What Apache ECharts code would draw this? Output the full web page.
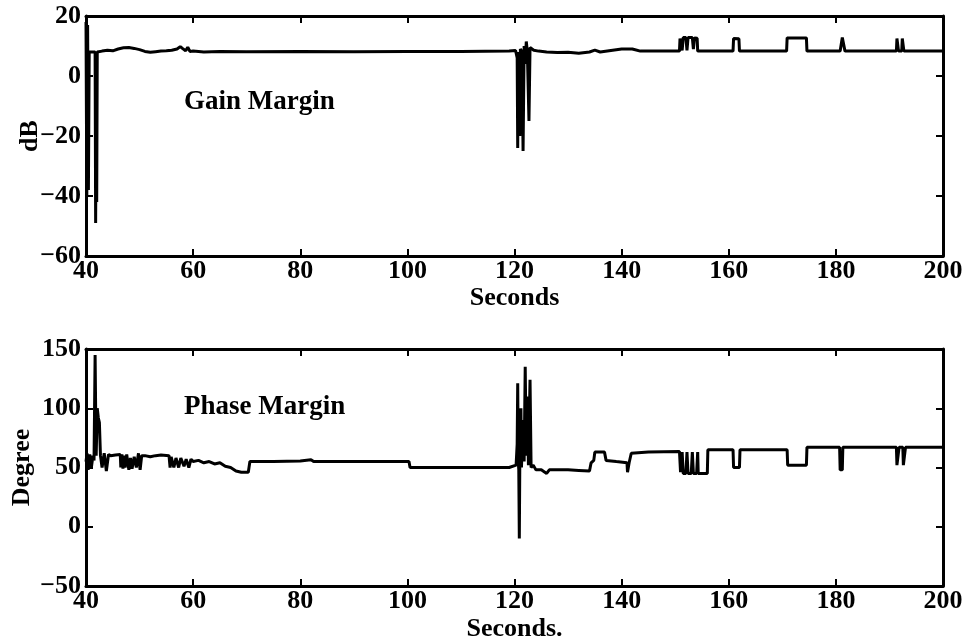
<!DOCTYPE html>
<html>
<head>
<meta charset="utf-8">
<script src="https://cdn.jsdelivr.net/npm/echarts@6/dist/echarts.min.js"></script>
<style>
  html, body { margin: 0; padding: 0; background: #fff; }
  #chart { width: 972px; height: 639px; }
</style>
</head>
<body>
<div id="chart"></div>
<script>
// gain margin (dB) vs seconds
const gainTime = [40.0, 40.15, 40.3, 40.45, 40.6, 41.7, 41.8, 41.9, 42.0, 42.1, 42.3, 43, 44, 45, 46, 47, 48, 49, 50, 51, 52, 53, 54, 55, 56, 57, 57.6, 58, 58.6, 59, 59.4, 60, 62, 65, 70, 80, 90, 100, 110, 119, 120.2, 120.5, 120.6, 120.7, 120.9, 121.0, 121.1, 121.4, 121.6, 121.8, 122.0, 122.2, 122.4, 122.7, 122.9, 123.2, 123.6, 124.5, 126, 128, 130, 132, 134, 135, 136, 138, 140, 142, 143.5, 145, 150.8, 150.9, 151.3, 151.5, 152, 152.2, 152.4, 153.2, 153.4, 153.6, 154.1, 154.2, 160.8, 160.9, 161.9, 162.0, 170.8, 170.9, 174.5, 174.6, 180.8, 181.2, 181.7, 191.3, 191.4, 191.6, 191.7, 192.3, 192.4, 192.6, 192.7, 200];
const gainDb = [18, -40, 17, -38, 8, 8, -49, -10, -42, 8, 8.5, 8.3, 8.6, 8.4, 9.0, 9.4, 9.5, 9.2, 8.8, 8.2, 7.9, 8.1, 8.3, 8.4, 8.6, 9.0, 9.8, 9.2, 8.4, 9.6, 8.2, 8.3, 8.0, 8.2, 8.1, 8.2, 8.1, 8.2, 8.2, 8.3, 8.5, 6, -24, 8, 5, -20, 9, 8, -25, 10, 4, 11.5, 8, -15, 9.5, 10, 8.6, 8.3, 8.0, 7.8, 7.9, 7.6, 8.0, 8.6, 8.0, 8.5, 9.0, 9.0, 8.3, 8.3, 8.3, 12.5, 8.5, 12.8, 12.8, 8.5, 12.8, 12.8, 9, 12.7, 12.6, 8.3, 8.3, 12.5, 12.4, 8.3, 8.3, 12.7, 12.7, 8.3, 8.3, 12.8, 8.3, 8.3, 12.5, 12.5, 8.3, 8.3, 12.5, 12.5, 8.3, 8.3];

// phase margin (degree) vs seconds
const phaseTime = [40.0, 40.2, 40.4, 40.7, 41.0, 41.3, 41.5, 41.6, 41.7, 41.8, 41.9, 42.1, 42.3, 42.5, 42.7, 43.0, 43.4, 43.8, 44.2, 44.6, 45.5, 46.4, 46.5, 46.7, 46.9, 47.1, 47.3, 47.6, 48.0, 48.3, 48.6, 49.0, 49.4, 49.8, 50.1, 50.4, 51, 52, 53, 54, 55.5, 55.7, 55.9, 56.4, 56.8, 57.3, 57.7, 58.3, 58.7, 59.2, 59.6, 60, 61, 62, 63, 64, 65, 66, 67, 68, 69, 70.3, 70.6, 75, 80, 82, 82.5, 90, 100.3, 100.5, 110, 119, 120.3, 120.5, 120.6, 120.7, 120.8, 120.9, 121.0, 121.2, 121.3, 121.6, 121.8, 122.0, 122.2, 122.4, 122.6, 122.9, 123.1, 123.5, 124, 125, 126, 126.5, 128, 130, 132, 134, 134.3, 134.8, 135, 136.8, 137.1, 139, 141, 141.1, 141.4, 141.8, 145, 150.8, 151.0, 151.3, 151.5, 152, 152.2, 152.4, 153, 153.2, 153.4, 154, 154.2, 154.3, 156, 156.1, 160.8, 160.9, 162, 162.1, 170.9, 171, 174.5, 174.6, 180.7, 180.8, 181.2, 181.3, 191.3, 191.4, 191.7, 191.8, 192.5, 192.6, 192.9, 193, 200];
const phaseDeg = [55, 62, 48, 61, 50, 60, 56, 100, 145, 100, 60, 100, 92, 88, 60, 50, 62, 47, 61, 60, 60.5, 61, 50, 61, 49, 60, 50, 61, 48, 58, 49, 59, 50, 62, 48, 60, 60, 59, 60, 60.5, 60, 50, 59, 50, 58, 50, 58, 51, 57, 50, 57, 55, 56, 54, 55, 53, 54, 51, 50, 47, 46, 46, 55, 55, 55.5, 56.5, 55, 55, 55, 50, 50, 50, 52, 70, 121, 55, 48, -10, 60, 100, 50, 90, 55, 135, 60, 110, 52, 124, 50, 52, 48, 48, 45, 48, 48, 48, 47.5, 47, 54, 56, 63, 63, 56, 55, 54, 46, 54, 62, 63, 63.5, 46, 63, 45, 45, 63, 45, 45, 63, 45, 45, 63, 45, 45, 65, 65, 50, 50, 65, 65, 52, 52, 67, 67, 48, 48, 67, 67, 52, 52, 67, 67, 52, 52, 67, 67];

// tick marks
const xTicks = { min: 40, max: 200, interval: 20 };
const gainTicks = { min: -60, max: 20, interval: 20 };
const phaseTicks = { min: -50, max: 150, interval: 50 };

const font = 'Liberation Serif';
const zip = (xs, ys) => xs.map((x, i) => [x, ys[i]]);
const minusFmt = v => String(v).replace('-', '\u2212');

const chart = echarts.init(document.getElementById('chart'));

// common axis styling: thick black frame, inward ticks
const lineStyle = { color: '#000', width: 3 };
function xAxisFor(gridIndex, name, gap, showLabel, pos) {
  return {
    type: 'value', gridIndex: gridIndex, position: pos,
    min: xTicks.min, max: xTicks.max, interval: xTicks.interval,
    name: showLabel ? name : '', nameLocation: 'middle', nameGap: gap,
    nameTextStyle: { fontFamily: font, fontWeight: 'bold', fontSize: 26, color: '#000' },
    axisLine: { show: true, onZero: false, lineStyle: lineStyle },
    axisTick: { show: true, inside: true, length: 7, lineStyle: { color: '#000', width: 2 } },
    axisLabel: { show: showLabel, margin: 2, fontFamily: font, fontWeight: 'bold', fontSize: 26, color: '#000' },
    splitLine: { show: false }
  };
}
function yAxisFor(gridIndex, ticks, name, gap, showLabel, pos) {
  return {
    type: 'value', gridIndex: gridIndex, position: pos,
    min: ticks.min, max: ticks.max, interval: ticks.interval,
    name: showLabel ? name : '', nameLocation: 'middle', nameGap: gap, nameRotate: 90,
    nameMoveOverlap: false,
    nameTextStyle: { fontFamily: font, fontWeight: 'bold', fontSize: 26, color: '#000' },
    axisLine: { show: true, onZero: false, lineStyle: lineStyle },
    axisTick: { show: true, inside: true, length: 7, lineStyle: { color: '#000', width: 2 } },
    axisLabel: { show: showLabel, margin: 5, fontFamily: font, fontWeight: 'bold', fontSize: 26, color: '#000', formatter: minusFmt },
    splitLine: { show: false }
  };
}

const option = {
  backgroundColor: '#fff',
  animation: false,
  title: [
    { text: 'Gain Margin', left: 179, top: 84, textStyle: { fontFamily: font, fontWeight: 'bold', fontSize: 27, color: '#000' } },
    { text: 'Phase Margin', left: 179, top: 389, textStyle: { fontFamily: font, fontWeight: 'bold', fontSize: 27, color: '#000' } }
  ],
  grid: [
    { left: 86, top: 16, width: 857, height: 240, outerBoundsMode: 'none' },
    { left: 86, top: 349, width: 857, height: 237, outerBoundsMode: 'none' }
  ],
  xAxis: [
    xAxisFor(0, 'Seconds', 28, true, 'bottom'),
    xAxisFor(0, '', 0, false, 'top'),
    xAxisFor(1, 'Seconds.', 30, true, 'bottom'),
    xAxisFor(1, '', 0, false, 'top')
  ],
  yAxis: [
    yAxisFor(0, gainTicks, 'dB', 43, true, 'left'),
    yAxisFor(0, gainTicks, '', 0, false, 'right'),
    yAxisFor(1, phaseTicks, 'Degree', 51, true, 'left'),
    yAxisFor(1, phaseTicks, '', 0, false, 'right')
  ],
  series: [
    {
      type: 'line', xAxisIndex: 0, yAxisIndex: 0,
      data: zip(gainTime, gainDb),
      showSymbol: false, lineStyle: { color: '#000', width: 3 }
    },
    {
      type: 'line', xAxisIndex: 2, yAxisIndex: 2,
      data: zip(phaseTime, phaseDeg),
      showSymbol: false, lineStyle: { color: '#000', width: 3 }
    }
  ]
};
chart.setOption(option);
</script>
</body>
</html>
